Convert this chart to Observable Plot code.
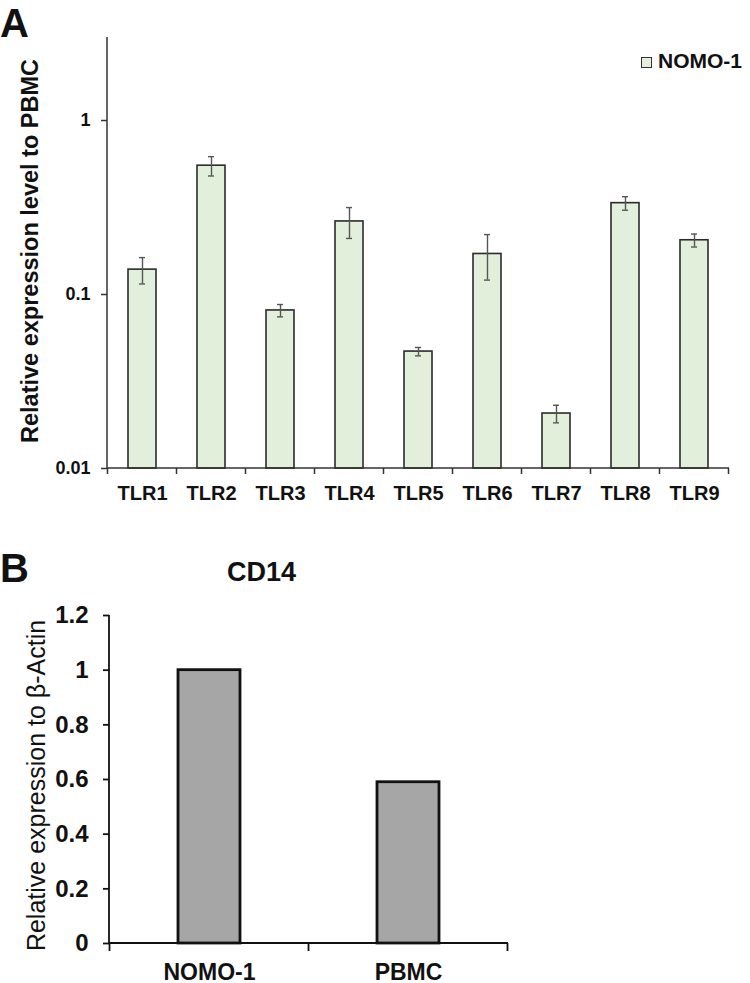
<!DOCTYPE html>
<html>
<head>
<meta charset="utf-8">
<script src="https://cdn.jsdelivr.net/npm/d3@7"></script>
<script src="https://cdn.jsdelivr.net/npm/@observablehq/plot@0.6"></script>
<style>
  body { margin: 0; background: #fff; }
  #fig { position: relative; width: 750px; height: 983px; font-family: "Liberation Sans", Arial, sans-serif; color: #111; }
  #fig > div { position: absolute; line-height: 1; white-space: nowrap; }
  .letter { font-size: 40px; font-weight: bold; }
  .title { font-size: 27px; font-weight: bold; }
  .legend { font-size: 21px; font-weight: bold; }
  .swatch { width: 11px; height: 11px; box-sizing: border-box; border: 1.4px solid #333; background: #e2efda; }
</style>
</head>
<body>
<div id="fig">
  <div id="panelA" style="left:0;top:0"></div>
  <div id="panelB" style="left:0;top:520px"></div>
  <div class="letter" style="left:0;top:3px">A</div>
  <div class="swatch" style="left:641px;top:57px"></div>
  <div class="legend" style="left:658px;top:50px">NOMO-1</div>
  <div class="letter" style="left:0;top:548px">B</div>
  <div class="title" style="left:227px;top:559px">CD14</div>
</div>
<script>
// Panel A: TLR expression in NOMO-1 relative to PBMC (log scale), mean ± error
const tlrGenes = ["TLR1", "TLR2", "TLR3", "TLR4", "TLR5", "TLR6", "TLR7", "TLR8", "TLR9"];
const tlrMean  = [0.139, 0.55, 0.081, 0.263, 0.047, 0.171, 0.0207, 0.335, 0.205];
const tlrError = [0.024, 0.07, 0.0066, 0.053, 0.0026, 0.05, 0.0024, 0.03, 0.0175];
const yTicksA  = [0.01, 0.1, 1];
const yDomainA = [0.01, 3];

// Panel B: CD14 expression relative to beta-actin
const cd14Samples = ["NOMO-1", "PBMC"];
const cd14Values  = [1, 0.59];
const yTicksB     = [0, 0.2, 0.4, 0.6, 0.8, 1, 1.2];
const yDomainB    = [0, 1.2];

const tlr = tlrGenes.map((gene, i) => ({gene, mean: tlrMean[i], err: tlrError[i]}));
const cd14 = cd14Samples.map((sample, i) => ({sample, value: cd14Values[i]}));

const fontFamily = '"Liberation Sans", Arial, sans-serif';

// Axis lines plus category tick marks placed on the band boundaries
function categoryFrame({tickLength, stroke, strokeWidth}) {
  return (index, scales, values, dimensions) => {
    const x = scales.x;
    const {width, height, marginLeft, marginRight, marginTop, marginBottom} = dimensions;
    const bottom = height - marginBottom;
    const step = typeof x.step === "function" ? x.step() : x.bandwidth();
    const gap = step - x.bandwidth();
    const domain = x.domain();
    const edges = domain.map((c) => x(c) - gap / 2);
    edges.push(x(domain[domain.length - 1]) + x.bandwidth() + gap / 2);
    const g = d3.create("svg:g")
      .attr("stroke", stroke)
      .attr("stroke-width", strokeWidth)
      .attr("fill", "none");
    g.append("line")
      .attr("x1", marginLeft).attr("x2", marginLeft)
      .attr("y1", marginTop).attr("y2", bottom);
    g.append("line")
      .attr("x1", marginLeft).attr("x2", width - marginRight)
      .attr("y1", bottom).attr("y2", bottom);
    g.selectAll(".edge").data(edges).join("line")
      .attr("x1", (d) => d).attr("x2", (d) => d)
      .attr("y1", bottom).attr("y2", bottom + tickLength);
    return g.node();
  };
}

const chartA = Plot.plot({
  width: 750,
  height: 510,
  marginTop: 37,
  marginBottom: 42,
  marginLeft: 107,
  marginRight: 21,
  style: {fontFamily, fontWeight: "bold", color: "#111", background: "transparent", overflow: "visible"},
  x: {domain: tlrGenes, paddingInner: 0.59, paddingOuter: 0.295, label: null},
  y: {type: "log", domain: yDomainA, label: null},
  marks: [
    Plot.barY(tlr, {x: "gene", y1: () => yDomainA[0], y2: "mean", fill: "#e2efda", stroke: "#2b2b2b", strokeWidth: 1.6}),
    Plot.ruleX(tlr, {x: "gene", y1: (d) => d.mean - d.err, y2: (d) => d.mean + d.err, stroke: "#555", strokeWidth: 1.4}),
    Plot.tickY(tlr, {x: "gene", y: (d) => d.mean + d.err, insetLeft: 11, insetRight: 11, stroke: "#555", strokeWidth: 1.4}),
    Plot.tickY(tlr, {x: "gene", y: (d) => d.mean - d.err, insetLeft: 11, insetRight: 11, stroke: "#555", strokeWidth: 1.4}),
    categoryFrame({tickLength: 6, stroke: "#333", strokeWidth: 1.5}),
    Plot.axisY({ticks: yTicksA, tickFormat: (d) => String(d), tickSize: 6, tickPadding: 11, fontSize: 18, strokeWidth: 1.5, stroke: "#333", label: null}),
    Plot.axisX({tickSize: 0, tickPadding: 17, fontSize: 20, label: null}),
    Plot.text(["Relative expression level to PBMC"], {text: (d) => d, frameAnchor: "left", textAnchor: "middle", lineAnchor: "middle", dx: -77, dy: -2, rotate: -90, fontSize: 23.5, fontWeight: "bold", fill: "#111"})
  ]
});

const chartB = Plot.plot({
  width: 750,
  height: 463,
  marginTop: 95,
  marginBottom: 40,
  marginLeft: 109,
  marginRight: 242,
  style: {fontFamily, fontWeight: "bold", color: "#111", background: "transparent", overflow: "visible"},
  x: {domain: cd14Samples, paddingInner: 0.69, paddingOuter: 0.345, label: null},
  y: {domain: yDomainB, label: null},
  marks: [
    Plot.barY(cd14, {x: "sample", y1: () => yDomainB[0], y2: "value", fill: "#a6a6a6", stroke: "#111", strokeWidth: 2.8}),
    categoryFrame({tickLength: 8, stroke: "#111", strokeWidth: 1.8}),
    Plot.axisY({ticks: yTicksB, tickFormat: (d) => String(d), tickSize: 6, tickPadding: 15, fontSize: 24, strokeWidth: 1.8, stroke: "#111", label: null}),
    Plot.axisX({tickSize: 0, tickPadding: 20, fontSize: 23, label: null}),
    Plot.text(["Relative expression to β-Actin"], {text: (d) => d, frameAnchor: "left", textAnchor: "middle", lineAnchor: "middle", dx: -73, dy: 6, rotate: -90, fontSize: 25, fontWeight: "normal", fill: "#111"})
  ]
});

document.getElementById("panelA").append(chartA);
document.getElementById("panelB").append(chartB);
</script>
</body>
</html>
